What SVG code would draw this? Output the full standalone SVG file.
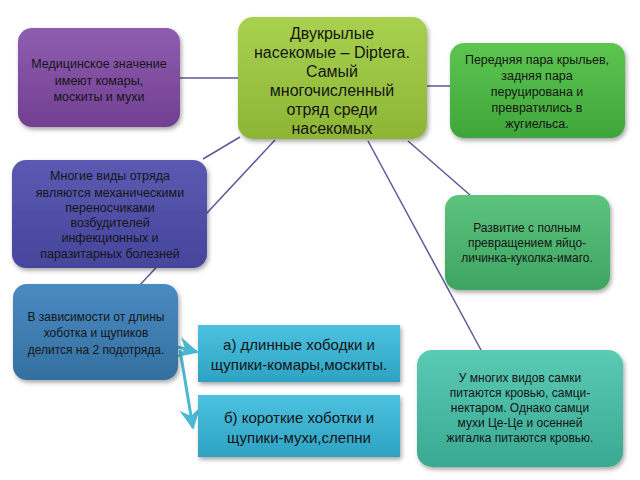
<svg xmlns="http://www.w3.org/2000/svg" width="640" height="480" viewBox="0 0 640 480">
<defs>
<filter id="sh" x="-10%" y="-10%" width="125%" height="130%">
<feDropShadow dx="1.5" dy="2.5" stdDeviation="2" flood-color="#000" flood-opacity="0.35"/>
</filter>
<linearGradient id="gCenter" x1="0" y1="0" x2="0" y2="1"><stop offset="0" stop-color="#a9d150"/><stop offset="1" stop-color="#8db535"/></linearGradient>
<linearGradient id="gPurple" x1="0" y1="0" x2="0" y2="1"><stop offset="0" stop-color="#8f5db0"/><stop offset="1" stop-color="#713f92"/></linearGradient>
<linearGradient id="gGreen" x1="0" y1="0" x2="0" y2="1"><stop offset="0" stop-color="#5cc650"/><stop offset="1" stop-color="#3fa53a"/></linearGradient>
<linearGradient id="gIndigo" x1="0" y1="0" x2="0" y2="1"><stop offset="0" stop-color="#5a5ab2"/><stop offset="1" stop-color="#45459c"/></linearGradient>
<linearGradient id="gSteel" x1="0" y1="0" x2="0" y2="1"><stop offset="0" stop-color="#4a8ac2"/><stop offset="1" stop-color="#33709f"/></linearGradient>
<linearGradient id="gMint" x1="0" y1="0" x2="0" y2="1"><stop offset="0" stop-color="#5cc47d"/><stop offset="1" stop-color="#3ea462"/></linearGradient>
<linearGradient id="gTeal" x1="0" y1="0" x2="0" y2="1"><stop offset="0" stop-color="#5acab4"/><stop offset="1" stop-color="#3aa992"/></linearGradient>
<linearGradient id="gCyan" x1="0" y1="0" x2="0" y2="1"><stop offset="0" stop-color="#4cc2df"/><stop offset="1" stop-color="#2ea2c3"/></linearGradient>
<marker id="arr" viewBox="0 0 12 12" refX="11" refY="6" markerWidth="7" markerHeight="7" orient="auto" markerUnits="strokeWidth">
<path d="M0,0 L12,6 L0,12 L4,6 Z" fill="#4bb8d2"/>
</marker>
</defs>
<style>
text{font-family:"Liberation Sans","Open Sans",Arial,sans-serif;fill:#151515;text-anchor:middle}
.c{stroke:#5c5a98;stroke-width:1.5;fill:none}
.a{stroke:#4bb8d2;stroke-width:3;fill:none}
.box{filter:url(#sh)}
.s12{font-size:12px}
.s13{font-size:12.5px}
.s15{font-size:15px}
.s16{font-size:16px}
</style>
<rect width="640" height="480" fill="#fff"/>
<g id="connectors">
<line class="c" x1="180" y1="78" x2="238" y2="78"/>
<line class="c" x1="427" y1="86" x2="450" y2="86"/>
<line class="c" x1="240" y1="137" x2="203" y2="159"/>
<line class="c" x1="275" y1="140" x2="138" y2="287"/>
<line class="c" x1="408" y1="141" x2="470" y2="195"/>
<line class="c" x1="368" y1="141" x2="481" y2="350"/>
<line class="a" x1="178" y1="347" x2="197" y2="352" marker-end="url(#arr)"/>
<line class="a" x1="180" y1="350" x2="193" y2="428" marker-end="url(#arr)"/>
</g>
<g id="n-center">
<rect class="box" x="238" y="17" width="189" height="122" rx="15" fill="url(#gCenter)"/>
<text class="s16" x="332" y="39">Двукрылые</text>
<text class="s16" x="332" y="58">насекомые – Diptera.</text>
<text class="s16" x="332" y="77">Самый</text>
<text class="s16" x="332" y="96">многочисленный</text>
<text class="s16" x="332" y="115">отряд среди</text>
<text class="s16" x="332" y="134">насекомых</text>
</g>
<g id="n-med">
<rect class="box" x="18" y="28" width="162" height="99" rx="14" fill="url(#gPurple)"/>
<text class="s13" x="99" y="68">Медицинское значение</text>
<text class="s13" x="99" y="85">имеют комары,</text>
<text class="s13" x="99" y="101">москиты и мухи</text>
</g>
<g id="n-wings">
<rect class="box" x="450" y="43" width="175" height="95" rx="14" fill="url(#gGreen)"/>
<text class="s13" x="537" y="64">Передняя пара крыльев,</text>
<text class="s13" x="537" y="80">задняя пара</text>
<text class="s13" x="537" y="96">перуцирована и</text>
<text class="s13" x="537" y="112">превратились в</text>
<text class="s13" x="537" y="128">жугиельса.</text>
</g>
<g id="n-vectors">
<rect class="box" x="12" y="160" width="195" height="108" rx="14" fill="url(#gIndigo)"/>
<text class="s13" x="110" y="180">Многие виды отряда</text>
<text class="s13" x="110" y="197">являются механическими</text>
<text class="s13" x="110" y="212">переносчиками</text>
<text class="s13" x="110" y="227">возбудителей</text>
<text class="s13" x="110" y="242">инфекционных и</text>
<text class="s13" x="110" y="258">паразитарных болезней</text>
</g>
<g id="n-suborders">
<rect class="box" x="13" y="284" width="165" height="96" rx="14" fill="url(#gSteel)"/>
<text class="s12" x="96" y="321">В зависимости от длины</text>
<text class="s12" x="96" y="337">хоботка и щупиков</text>
<text class="s12" x="96" y="354">делится на 2 подотряда.</text>
</g>
<g id="n-a">
<rect class="box" x="198" y="325" width="202" height="57" fill="url(#gCyan)"/>
<text class="s15" x="299" y="350">а) длинные хободки и</text>
<text class="s15" x="299" y="370">щупики-комары,москиты.</text>
</g>
<g id="n-b">
<rect class="box" x="198" y="395" width="202" height="62" fill="url(#gCyan)"/>
<text class="s15" x="299" y="423">б) короткие хоботки и</text>
<text class="s15" x="299" y="443">щупики-мухи,слепни</text>
</g>
<g id="n-dev">
<rect class="box" x="445" y="195" width="165" height="95" rx="14" fill="url(#gMint)"/>
<text class="s12" x="527" y="232">Развитие с полным</text>
<text class="s12" x="527" y="247">превращением яйцо-</text>
<text class="s12" x="527" y="262">личинка-куколка-имаго.</text>
</g>
<g id="n-blood">
<rect class="box" x="417" y="350" width="206" height="117" rx="15" fill="url(#gTeal)"/>
<text class="s12" x="520" y="382">У многих видов самки</text>
<text class="s12" x="520" y="397">питаются кровью, самци-</text>
<text class="s12" x="520" y="412">нектаром. Однако самци</text>
<text class="s12" x="520" y="427">мухи Це-Це и осенней</text>
<text class="s12" x="520" y="442">жигалка питаются кровью.</text>
</g>
</svg>
